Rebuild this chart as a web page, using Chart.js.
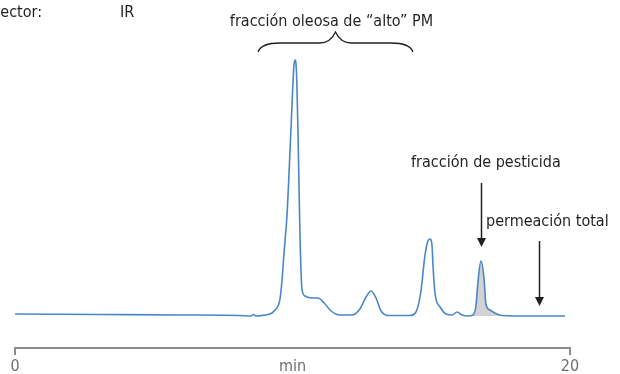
<!DOCTYPE html>
<html>
<head>
<meta charset="utf-8">
<script src="https://cdn.jsdelivr.net/npm/chart.js@4/dist/chart.umd.min.js"></script>
<style>
  body { margin: 0; background: #fff; }
  canvas { display: block; }
</style>
</head>
<body>
<canvas id="myChart" width="620" height="374"></canvas>
<script>
// retention time (min) and detector response of the GPC trace
var minutes = [0, 3.0, 6.0, 8.1, 8.5, 8.6, 8.68, 8.9, 9.12, 9.26, 9.37, 9.48, 9.55, 9.62, 9.7, 9.8, 9.95,
  10.05, 10.09, 10.14, 10.2, 10.27, 10.34, 10.45, 10.7, 10.92, 11.14, 11.39, 11.71, 12.14, 12.43,
  12.65, 12.83, 13.01, 13.19, 13.51, 14.23, 14.45, 14.63, 14.77, 14.88, 14.95, 15.03, 15.06, 15.14,
  15.32, 15.53, 15.75, 15.93, 16.11, 16.32, 16.5, 16.61, 16.68, 16.79, 16.9, 16.97, 17.12, 17.33,
  17.55, 18.56, 19.82];
var signal = [2, 1.5, 1, 0.5, 0, 1.5, 0, 0.5, 1.5, 3, 6, 10, 17, 35, 65, 100, 190,
  250, 256, 246, 180, 80, 27, 20, 18, 18, 13, 5, 1, 1, 7,
  19, 25, 18, 5, 0.5, 0.5, 4, 25, 60, 75, 77, 70, 52, 22,
  9, 2, 1, 4, 1, 0, 1, 10, 33, 55, 38, 12, 6, 2.5,
  0.5, 0, 0];

// pesticide fraction window (shaded)
var pesticideFrom = 16.5;
var pesticideTo = 17.55;

// x axis tick labels
var tickLabels = { 0: '0', 10: 'min', 20: '20' };

var detectorName = 'IR';
var oilLabel = 'fracción oleosa de \u201calto\u201d PM';
var pesticideLabel = 'fracción de pesticida';
var totalLabel = 'permeación total';
var oilRange = [8.76, 14.34];
var pesticideArrowAt = 16.79;
var totalArrowAt = 18.9;

var FONT = "'Liberation Sans Narrow', 'DejaVu Sans Condensed', 'Roboto', sans-serif";

function drawChart() {
  var trace = minutes.map(function (t, i) { return { x: t, y: signal[i] }; });
  var shaded = trace.filter(function (p) { return p.x >= pesticideFrom && p.x <= pesticideTo; });

  function arrow(ctx, x, yTop, yTip) {
    ctx.beginPath();
    ctx.moveTo(x, yTop);
    ctx.lineTo(x, yTip - 8);
    ctx.stroke();
    ctx.beginPath();
    ctx.moveTo(x - 4.5, yTip - 9);
    ctx.lineTo(x + 4.5, yTip - 9);
    ctx.lineTo(x, yTip);
    ctx.closePath();
    ctx.fill();
  }

  var notes = {
    id: 'notes',
    afterDraw: function (chart) {
      var ctx = chart.ctx;
      var xs = chart.scales.x;
      var ys = chart.scales.y;
      ctx.save();
      ctx.fillStyle = '#231f20';
      ctx.strokeStyle = '#231f20';
      ctx.font = '16px ' + FONT;
      ctx.textBaseline = 'alphabetic';

      ctx.textAlign = 'right';
      ctx.fillText('Detector:', 42, 17);
      ctx.textAlign = 'left';
      ctx.fillText(detectorName, 120, 17);

      ctx.textAlign = 'center';
      var x0 = xs.getPixelForValue(oilRange[0]);
      var x1 = xs.getPixelForValue(oilRange[1]);
      var mid = (x0 + x1) / 2;
      ctx.fillText(oilLabel, mid - 4, 26);

      // curly brace over the oil fraction
      ctx.lineWidth = 1.3;
      ctx.beginPath();
      ctx.moveTo(x0, 52);
      ctx.quadraticCurveTo(x0 + 3, 43, x0 + 22, 43);
      ctx.lineTo(mid - 16, 43);
      ctx.quadraticCurveTo(mid - 5, 43, mid, 32);
      ctx.quadraticCurveTo(mid + 5, 43, mid + 16, 43);
      ctx.lineTo(x1 - 22, 43);
      ctx.quadraticCurveTo(x1 - 3, 43, x1, 52);
      ctx.stroke();

      ctx.textAlign = 'left';
      ctx.fillText(pesticideLabel, 411, 167);
      ctx.fillText(totalLabel, 486, 226);

      ctx.lineWidth = 1.5;
      arrow(ctx, Math.round(xs.getPixelForValue(pesticideArrowAt)) + 0.5, 183, ys.getPixelForValue(69));
      arrow(ctx, Math.round(xs.getPixelForValue(totalArrowAt)) + 0.5, 241, ys.getPixelForValue(10));
      ctx.restore();
    }
  };

  var data = {
    datasets: [{
      label: 'señal',
      data: trace,
      borderColor: '#4a86c8',
      borderWidth: 1.6,
      pointRadius: 0,
      cubicInterpolationMode: 'monotone',
      fill: false
    }, {
      label: 'pesticida',
      data: shaded,
      borderWidth: 0,
      borderColor: 'rgba(0,0,0,0)',
      backgroundColor: '#d2d2d2',
      pointRadius: 0,
      cubicInterpolationMode: 'monotone',
      fill: { value: 0 }
    }]
  };

  var config = {
    type: 'line',
    data: data,
    options: {
      responsive: false,
      animation: false,
      devicePixelRatio: 1,
      layout: { padding: { left: 15, right: 50, top: 40, bottom: 0 } },
      plugins: { legend: { display: false }, tooltip: { enabled: false } },
      scales: {
        x: {
          type: 'linear',
          min: 0,
          max: 20,
          afterFit: function (scale) { scale.height = 26; },
          grid: {
            drawOnChartArea: false,
            drawTicks: true,
            tickLength: 7,
            lineWidth: 2,
            color: function (c) { return c.tick && c.tick.value === 10 ? 'rgba(0,0,0,0)' : '#8c8c8c'; }
          },
          border: { display: true, color: '#8c8c8c', width: 2 },
          ticks: {
            stepSize: 10,
            padding: 4,
            maxRotation: 0,
            color: '#6d6e71',
            font: { family: FONT, size: 16, lineHeight: 1 },
            callback: function (v) { return tickLabels[v]; }
          }
        },
        y: {
          display: false,
          min: -32,
          max: 276
        }
      }
    },
    plugins: [notes]
  };

  new Chart(document.getElementById('myChart'), config);
}

drawChart();
</script>
</body>
</html>
